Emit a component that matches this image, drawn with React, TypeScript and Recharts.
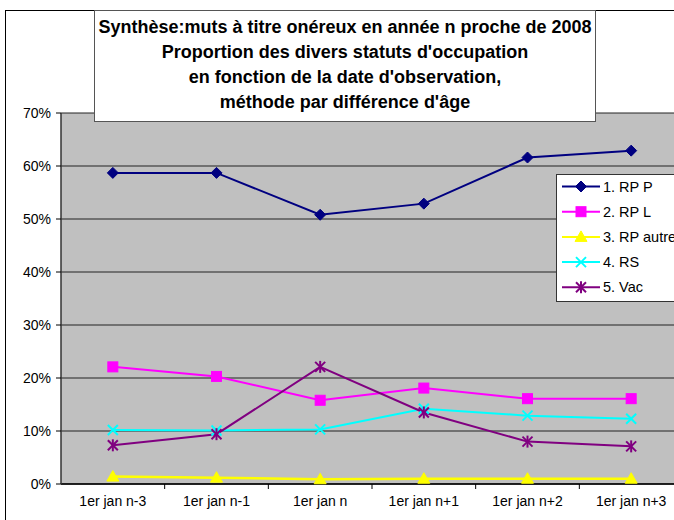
import React from 'react';
import { LineChart, Line, XAxis, YAxis, CartesianGrid } from 'recharts';

const categories = ['1er jan n-3', '1er jan n-1', '1er jan n', '1er jan n+1', '1er jan n+2', '1er jan n+3'];
const rpP = [0.587, 0.587, 0.508, 0.529, 0.616, 0.629];
const rpL = [0.221, 0.203, 0.158, 0.181, 0.161, 0.161];
const rpAutre = [0.014, 0.012, 0.009, 0.010, 0.010, 0.010];
const rs = [0.102, 0.101, 0.103, 0.142, 0.129, 0.123];
const vac = [0.073, 0.094, 0.221, 0.135, 0.080, 0.071];
const yTicks = [0, 0.1, 0.2, 0.3, 0.4, 0.5, 0.6, 0.7];
const titleLines = [
  "Synthèse:muts à titre onéreux en année n proche de 2008",
  "Proportion des divers statuts d'occupation",
  "en fonction de la date d'observation,",
  "méthode par différence d'âge",
];

const seriesDefs = [
  { key: 'rpP', name: '1. RP P', color: '#000080', shape: 'diamond', values: rpP },
  { key: 'rpL', name: '2. RP L', color: '#FF00FF', shape: 'square', values: rpL },
  { key: 'rpAutre', name: '3. RP autre', color: '#FFFF00', shape: 'triangle', values: rpAutre },
  { key: 'rs', name: '4. RS', color: '#00FFFF', shape: 'x', values: rs },
  { key: 'vac', name: '5. Vac', color: '#800080', shape: 'star', values: vac },
];

const data = categories.map((c, i) => {
  const row: any = { cat: c };
  seriesDefs.forEach((s) => { row[s.key] = s.values[i]; });
  return row;
});

const FONT = 'Arial, "Liberation Sans", Helvetica, sans-serif';
const PLOT_W = 622;
const HALF_BAND = PLOT_W / categories.length / 2;

function Marker({ shape, color, cx, cy }: any) {
  const r = 5.5;
  switch (shape) {
    case 'diamond':
      return <polygon points={`${cx},${cy - r} ${cx + r},${cy} ${cx},${cy + r} ${cx - r},${cy}`} fill={color} stroke={color} />;
    case 'square':
      return <rect x={cx - 5} y={cy - 5} width={10} height={10} fill={color} stroke={color} />;
    case 'triangle':
      return <polygon points={`${cx},${cy - 6} ${cx + 6},${cy + 4.5} ${cx - 6},${cy + 4.5}`} fill={color} stroke={color} />;
    case 'x':
      return (
        <g stroke={color} strokeWidth={2}>
          <line x1={cx - 5} y1={cy - 5} x2={cx + 5} y2={cy + 5} />
          <line x1={cx - 5} y1={cy + 5} x2={cx + 5} y2={cy - 5} />
        </g>
      );
    case 'star':
    default:
      return (
        <g stroke={color} strokeWidth={2}>
          <line x1={cx - 5} y1={cy - 5} x2={cx + 5} y2={cy + 5} />
          <line x1={cx - 5} y1={cy + 5} x2={cx + 5} y2={cy - 5} />
          <line x1={cx} y1={cy - 6} x2={cx} y2={cy + 6} />
        </g>
      );
  }
}

const XTick = (props: any) => {
  const { x, y, payload } = props;
  return (
    <g>
      <line x1={x + HALF_BAND} y1={y} x2={x + HALF_BAND} y2={y + 5} stroke="#000" />
      <text x={x} y={y + 22} textAnchor="middle" fontSize={14} fontFamily={FONT} fill="#000">
        {payload.value}
      </text>
    </g>
  );
};

export default function App() {
  return (
    <div style={{ position: 'absolute', left: 0, top: 0, width: 674, height: 520, overflow: 'hidden', background: '#fff' }}>
      <div style={{ position: 'absolute', left: 5, top: 10, width: 720, height: 600, border: '1px solid #000', boxSizing: 'border-box' }} />
      <div style={{ position: 'absolute', left: 0, top: 0 }}>
        <LineChart width={700} height={520} data={data} margin={{ top: 113, right: 17, bottom: 6, left: 0 }}>
          <CartesianGrid vertical={false} stroke="#222" fill="#C0C0C0" strokeOpacity={1} />
          <XAxis
            dataKey="cat"
            height={30}
            padding={{ left: HALF_BAND, right: HALF_BAND }}
            tickLine={false}
            tickSize={0}
            tickMargin={0}
            axisLine={{ stroke: '#000', strokeWidth: 1.5 }}
            tick={<XTick />}
            interval={0}
          />
          <YAxis
            width={61}
            domain={[0, 0.7]}
            ticks={yTicks}
            tickFormatter={(v: number) => `${Math.round(v * 100)}%`}
            tickSize={5}
            tickMargin={5}
            tickLine={{ stroke: '#000' }}
            axisLine={{ stroke: '#333', strokeWidth: 1.5 }}
            tick={{ fontSize: 14, fontFamily: FONT, fill: '#000' }}
            interval={0}
          />
          {seriesDefs.map((s) => (
            <Line
              key={s.key}
              type="linear"
              dataKey={s.key}
              name={s.name}
              stroke={s.color}
              strokeWidth={s.key === 'rpAutre' ? 2.5 : 2}
              isAnimationActive={false}
              dot={(p: any) => <Marker key={`${s.key}-${p.index}`} shape={s.shape} color={s.color} cx={p.cx} cy={p.cy} />}
              activeDot={false}
            />
          ))}
        </LineChart>
      </div>
      <div
        style={{
          position: 'absolute', left: 94, top: 10, width: 502, height: 112, boxSizing: 'border-box',
          border: '1px solid #555', background: '#fff', textAlign: 'center', fontFamily: FONT,
          fontWeight: 'bold', fontSize: 18, lineHeight: '25px', paddingTop: 4, color: '#000',
        }}
      >
        {titleLines.map((t, i) => (
          <div key={i} style={{ whiteSpace: 'nowrap' }}>{t}</div>
        ))}
      </div>
      <svg style={{ position: 'absolute', left: 556, top: 174 }} width={130} height={130}>
        <rect x={0.5} y={0.5} width={140} height={127} fill="#fff" stroke="#333" />
        {seriesDefs.map((s, i) => {
          const cy = 12.5 + i * 25.2;
          return (
            <g key={s.key}>
              <line x1={6} y1={cy} x2={44} y2={cy} stroke={s.color} strokeWidth={2} />
              <Marker shape={s.shape} color={s.color} cx={25} cy={cy} />
              <text x={47} y={cy} dominantBaseline="central" fontSize={14.5} fontFamily={FONT} fill="#000">{s.name}</text>
            </g>
          );
        })}
      </svg>
    </div>
  );
}
